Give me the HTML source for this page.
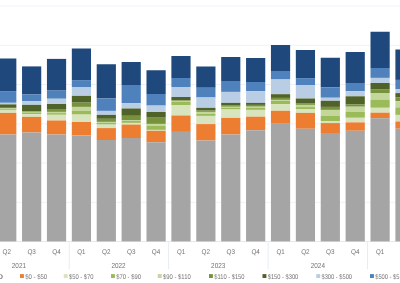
<!DOCTYPE html>
<html><head><meta charset="utf-8"><style>
html,body{margin:0;padding:0;background:#fff;width:400px;height:283px;overflow:hidden}
svg{display:block}
text{-webkit-font-smoothing:antialiased;text-rendering:geometricPrecision}
g.t{will-change:transform}
text{font-family:"Liberation Sans",sans-serif;font-size:6.8px;fill:#757575}
</style></head><body>
<svg width="400" height="283" viewBox="0 0 400 283">
<rect width="400" height="283" fill="#fff"/>
<rect x="0" y="5.55" width="400" height="1" fill="#eef2f8"/><rect x="0" y="44.80" width="400" height="1" fill="#eef2f8"/><rect x="0" y="84.05" width="400" height="1" fill="#eef2f8"/><rect x="0" y="123.30" width="400" height="1" fill="#eef2f8"/><rect x="0" y="162.55" width="400" height="1" fill="#eef2f8"/><rect x="0" y="201.80" width="400" height="1" fill="#eef2f8"/>
<rect x="0" y="241.05" width="400" height="1" fill="#e2e9f3"/>
<rect x="-2.85" y="58.50" width="19.2" height="33.10" fill="#1f497d"/><rect x="-2.85" y="91.60" width="19.2" height="11.20" fill="#4f81bd"/><rect x="-2.85" y="102.80" width="19.2" height="1.60" fill="#b9cde5"/><rect x="-2.85" y="104.40" width="19.2" height="3.40" fill="#4f6228"/><rect x="-2.85" y="107.80" width="19.2" height="0.50" fill="#76923c"/><rect x="-2.85" y="108.30" width="19.2" height="0.50" fill="#c3d69b"/><rect x="-2.85" y="108.80" width="19.2" height="1.10" fill="#9bbb59"/><rect x="-2.85" y="109.90" width="19.2" height="3.00" fill="#d7e4bd"/><rect x="-2.85" y="112.90" width="19.2" height="21.60" fill="#ed7d31"/><rect x="-2.85" y="134.50" width="19.2" height="106.90" fill="#a5a5a5"/><rect x="22.04" y="66.40" width="19.2" height="28.10" fill="#1f497d"/><rect x="22.04" y="94.50" width="19.2" height="6.80" fill="#4f81bd"/><rect x="22.04" y="101.30" width="19.2" height="3.60" fill="#b9cde5"/><rect x="22.04" y="104.90" width="19.2" height="6.10" fill="#4f6228"/><rect x="22.04" y="111.00" width="19.2" height="0.80" fill="#76923c"/><rect x="22.04" y="111.80" width="19.2" height="0.60" fill="#c3d69b"/><rect x="22.04" y="112.40" width="19.2" height="1.80" fill="#9bbb59"/><rect x="22.04" y="114.20" width="19.2" height="2.70" fill="#d7e4bd"/><rect x="22.04" y="116.90" width="19.2" height="15.60" fill="#ed7d31"/><rect x="22.04" y="132.50" width="19.2" height="108.90" fill="#a5a5a5"/><rect x="46.93" y="58.90" width="19.2" height="31.70" fill="#1f497d"/><rect x="46.93" y="90.60" width="19.2" height="8.15" fill="#4f81bd"/><rect x="46.93" y="98.75" width="19.2" height="5.25" fill="#b9cde5"/><rect x="46.93" y="104.00" width="19.2" height="5.70" fill="#4f6228"/><rect x="46.93" y="109.70" width="19.2" height="2.20" fill="#76923c"/><rect x="46.93" y="111.90" width="19.2" height="1.20" fill="#c3d69b"/><rect x="46.93" y="113.10" width="19.2" height="1.70" fill="#9bbb59"/><rect x="46.93" y="114.80" width="19.2" height="5.70" fill="#d7e4bd"/><rect x="46.93" y="120.50" width="19.2" height="14.00" fill="#ed7d31"/><rect x="46.93" y="134.50" width="19.2" height="106.90" fill="#a5a5a5"/><rect x="71.82" y="48.50" width="19.2" height="31.60" fill="#1f497d"/><rect x="71.82" y="80.10" width="19.2" height="6.90" fill="#4f81bd"/><rect x="71.82" y="87.00" width="19.2" height="8.90" fill="#b9cde5"/><rect x="71.82" y="95.90" width="19.2" height="6.70" fill="#4f6228"/><rect x="71.82" y="102.60" width="19.2" height="4.30" fill="#76923c"/><rect x="71.82" y="106.90" width="19.2" height="3.80" fill="#c3d69b"/><rect x="71.82" y="110.70" width="19.2" height="3.90" fill="#9bbb59"/><rect x="71.82" y="114.60" width="19.2" height="7.40" fill="#d7e4bd"/><rect x="71.82" y="122.00" width="19.2" height="13.50" fill="#ed7d31"/><rect x="71.82" y="135.50" width="19.2" height="105.90" fill="#a5a5a5"/><rect x="96.71" y="64.25" width="19.2" height="34.25" fill="#1f497d"/><rect x="96.71" y="98.50" width="19.2" height="12.40" fill="#4f81bd"/><rect x="96.71" y="110.90" width="19.2" height="4.00" fill="#b9cde5"/><rect x="96.71" y="114.90" width="19.2" height="3.90" fill="#4f6228"/><rect x="96.71" y="118.80" width="19.2" height="3.10" fill="#76923c"/><rect x="96.71" y="121.90" width="19.2" height="0.90" fill="#c3d69b"/><rect x="96.71" y="122.80" width="19.2" height="1.80" fill="#9bbb59"/><rect x="96.71" y="124.60" width="19.2" height="3.50" fill="#d7e4bd"/><rect x="96.71" y="128.10" width="19.2" height="11.90" fill="#ed7d31"/><rect x="96.71" y="140.00" width="19.2" height="101.40" fill="#a5a5a5"/><rect x="121.60" y="62.00" width="19.2" height="23.00" fill="#1f497d"/><rect x="121.60" y="85.00" width="19.2" height="18.10" fill="#4f81bd"/><rect x="121.60" y="103.10" width="19.2" height="5.40" fill="#b9cde5"/><rect x="121.60" y="108.50" width="19.2" height="7.30" fill="#4f6228"/><rect x="121.60" y="115.80" width="19.2" height="4.40" fill="#76923c"/><rect x="121.60" y="120.20" width="19.2" height="0.60" fill="#c3d69b"/><rect x="121.60" y="120.80" width="19.2" height="2.10" fill="#9bbb59"/><rect x="121.60" y="122.90" width="19.2" height="1.70" fill="#d7e4bd"/><rect x="121.60" y="124.60" width="19.2" height="13.40" fill="#ed7d31"/><rect x="121.60" y="138.00" width="19.2" height="103.40" fill="#a5a5a5"/><rect x="146.49" y="70.25" width="19.2" height="23.75" fill="#1f497d"/><rect x="146.49" y="94.00" width="19.2" height="11.60" fill="#4f81bd"/><rect x="146.49" y="105.60" width="19.2" height="6.40" fill="#b9cde5"/><rect x="146.49" y="112.00" width="19.2" height="5.70" fill="#4f6228"/><rect x="146.49" y="117.70" width="19.2" height="6.20" fill="#76923c"/><rect x="146.49" y="123.90" width="19.2" height="1.80" fill="#c3d69b"/><rect x="146.49" y="125.70" width="19.2" height="4.20" fill="#9bbb59"/><rect x="146.49" y="129.90" width="19.2" height="0.90" fill="#d7e4bd"/><rect x="146.49" y="130.80" width="19.2" height="11.45" fill="#ed7d31"/><rect x="146.49" y="142.25" width="19.2" height="99.15" fill="#a5a5a5"/><rect x="171.38" y="56.00" width="19.2" height="22.00" fill="#1f497d"/><rect x="171.38" y="78.00" width="19.2" height="9.00" fill="#4f81bd"/><rect x="171.38" y="87.00" width="19.2" height="10.00" fill="#b9cde5"/><rect x="171.38" y="97.00" width="19.2" height="3.50" fill="#4f6228"/><rect x="171.38" y="100.50" width="19.2" height="0.40" fill="#76923c"/><rect x="171.38" y="100.90" width="19.2" height="0.70" fill="#c3d69b"/><rect x="171.38" y="101.60" width="19.2" height="3.80" fill="#9bbb59"/><rect x="171.38" y="105.40" width="19.2" height="10.10" fill="#d7e4bd"/><rect x="171.38" y="115.50" width="19.2" height="16.40" fill="#ed7d31"/><rect x="171.38" y="131.90" width="19.2" height="109.50" fill="#a5a5a5"/><rect x="196.27" y="66.50" width="19.2" height="21.25" fill="#1f497d"/><rect x="196.27" y="87.75" width="19.2" height="9.75" fill="#4f81bd"/><rect x="196.27" y="97.50" width="19.2" height="10.35" fill="#b9cde5"/><rect x="196.27" y="107.85" width="19.2" height="2.75" fill="#4f6228"/><rect x="196.27" y="110.60" width="19.2" height="1.30" fill="#76923c"/><rect x="196.27" y="111.90" width="19.2" height="2.10" fill="#c3d69b"/><rect x="196.27" y="114.00" width="19.2" height="1.90" fill="#9bbb59"/><rect x="196.27" y="115.90" width="19.2" height="8.20" fill="#d7e4bd"/><rect x="196.27" y="124.10" width="19.2" height="16.40" fill="#ed7d31"/><rect x="196.27" y="140.50" width="19.2" height="100.90" fill="#a5a5a5"/><rect x="221.16" y="57.00" width="19.2" height="24.00" fill="#1f497d"/><rect x="221.16" y="81.00" width="19.2" height="10.90" fill="#4f81bd"/><rect x="221.16" y="91.90" width="19.2" height="11.00" fill="#b9cde5"/><rect x="221.16" y="102.90" width="19.2" height="2.20" fill="#4f6228"/><rect x="221.16" y="105.10" width="19.2" height="1.70" fill="#76923c"/><rect x="221.16" y="106.80" width="19.2" height="1.10" fill="#c3d69b"/><rect x="221.16" y="107.90" width="19.2" height="1.60" fill="#9bbb59"/><rect x="221.16" y="109.50" width="19.2" height="8.40" fill="#d7e4bd"/><rect x="221.16" y="117.90" width="19.2" height="16.60" fill="#ed7d31"/><rect x="221.16" y="134.50" width="19.2" height="106.90" fill="#a5a5a5"/><rect x="246.05" y="58.00" width="19.2" height="24.00" fill="#1f497d"/><rect x="246.05" y="82.00" width="19.2" height="9.25" fill="#4f81bd"/><rect x="246.05" y="91.25" width="19.2" height="11.65" fill="#b9cde5"/><rect x="246.05" y="102.90" width="19.2" height="2.00" fill="#4f6228"/><rect x="246.05" y="104.90" width="19.2" height="1.80" fill="#76923c"/><rect x="246.05" y="106.70" width="19.2" height="1.00" fill="#c3d69b"/><rect x="246.05" y="107.70" width="19.2" height="2.20" fill="#9bbb59"/><rect x="246.05" y="109.90" width="19.2" height="6.80" fill="#d7e4bd"/><rect x="246.05" y="116.70" width="19.2" height="13.55" fill="#ed7d31"/><rect x="246.05" y="130.25" width="19.2" height="111.15" fill="#a5a5a5"/><rect x="270.94" y="45.00" width="19.2" height="26.00" fill="#1f497d"/><rect x="270.94" y="71.00" width="19.2" height="8.50" fill="#4f81bd"/><rect x="270.94" y="79.50" width="19.2" height="14.70" fill="#b9cde5"/><rect x="270.94" y="94.20" width="19.2" height="3.70" fill="#4f6228"/><rect x="270.94" y="97.90" width="19.2" height="2.00" fill="#76923c"/><rect x="270.94" y="99.90" width="19.2" height="0.90" fill="#c3d69b"/><rect x="270.94" y="100.80" width="19.2" height="3.50" fill="#9bbb59"/><rect x="270.94" y="104.30" width="19.2" height="6.50" fill="#d7e4bd"/><rect x="270.94" y="110.80" width="19.2" height="12.95" fill="#ed7d31"/><rect x="270.94" y="123.75" width="19.2" height="117.65" fill="#a5a5a5"/><rect x="295.83" y="50.00" width="19.2" height="28.10" fill="#1f497d"/><rect x="295.83" y="78.10" width="19.2" height="6.90" fill="#4f81bd"/><rect x="295.83" y="85.00" width="19.2" height="13.50" fill="#b9cde5"/><rect x="295.83" y="98.50" width="19.2" height="5.10" fill="#4f6228"/><rect x="295.83" y="103.60" width="19.2" height="1.30" fill="#76923c"/><rect x="295.83" y="104.90" width="19.2" height="2.20" fill="#c3d69b"/><rect x="295.83" y="107.10" width="19.2" height="2.00" fill="#9bbb59"/><rect x="295.83" y="109.10" width="19.2" height="3.80" fill="#d7e4bd"/><rect x="295.83" y="112.90" width="19.2" height="15.85" fill="#ed7d31"/><rect x="295.83" y="128.75" width="19.2" height="112.65" fill="#a5a5a5"/><rect x="320.72" y="57.75" width="19.2" height="29.50" fill="#1f497d"/><rect x="320.72" y="87.25" width="19.2" height="10.50" fill="#4f81bd"/><rect x="320.72" y="97.75" width="19.2" height="3.05" fill="#b9cde5"/><rect x="320.72" y="100.80" width="19.2" height="6.10" fill="#4f6228"/><rect x="320.72" y="106.90" width="19.2" height="3.00" fill="#76923c"/><rect x="320.72" y="109.90" width="19.2" height="5.80" fill="#c3d69b"/><rect x="320.72" y="115.70" width="19.2" height="5.30" fill="#9bbb59"/><rect x="320.72" y="121.00" width="19.2" height="2.10" fill="#d7e4bd"/><rect x="320.72" y="123.10" width="19.2" height="9.90" fill="#ed7d31"/><rect x="320.72" y="133.00" width="19.2" height="108.40" fill="#a5a5a5"/><rect x="345.61" y="52.00" width="19.2" height="31.00" fill="#1f497d"/><rect x="345.61" y="83.00" width="19.2" height="8.25" fill="#4f81bd"/><rect x="345.61" y="91.25" width="19.2" height="5.05" fill="#b9cde5"/><rect x="345.61" y="96.30" width="19.2" height="8.20" fill="#4f6228"/><rect x="345.61" y="104.50" width="19.2" height="2.20" fill="#76923c"/><rect x="345.61" y="106.70" width="19.2" height="5.05" fill="#c3d69b"/><rect x="345.61" y="111.75" width="19.2" height="6.05" fill="#9bbb59"/><rect x="345.61" y="117.80" width="19.2" height="4.60" fill="#d7e4bd"/><rect x="345.61" y="122.40" width="19.2" height="8.35" fill="#ed7d31"/><rect x="345.61" y="130.75" width="19.2" height="110.65" fill="#a5a5a5"/><rect x="370.50" y="31.75" width="19.2" height="36.25" fill="#1f497d"/><rect x="370.50" y="68.00" width="19.2" height="9.90" fill="#4f81bd"/><rect x="370.50" y="77.90" width="19.2" height="5.10" fill="#b9cde5"/><rect x="370.50" y="83.00" width="19.2" height="6.60" fill="#4f6228"/><rect x="370.50" y="89.60" width="19.2" height="3.40" fill="#76923c"/><rect x="370.50" y="93.00" width="19.2" height="6.60" fill="#c3d69b"/><rect x="370.50" y="99.60" width="19.2" height="8.20" fill="#9bbb59"/><rect x="370.50" y="107.80" width="19.2" height="4.90" fill="#d7e4bd"/><rect x="370.50" y="112.70" width="19.2" height="5.50" fill="#ed7d31"/><rect x="370.50" y="118.20" width="19.2" height="123.20" fill="#a5a5a5"/><rect x="395.39" y="49.50" width="19.2" height="30.40" fill="#1f497d"/><rect x="395.39" y="79.90" width="19.2" height="9.30" fill="#4f81bd"/><rect x="395.39" y="89.20" width="19.2" height="3.90" fill="#b9cde5"/><rect x="395.39" y="93.10" width="19.2" height="4.10" fill="#4f6228"/><rect x="395.39" y="97.20" width="19.2" height="4.00" fill="#76923c"/><rect x="395.39" y="101.20" width="19.2" height="6.20" fill="#c3d69b"/><rect x="395.39" y="107.40" width="19.2" height="7.50" fill="#9bbb59"/><rect x="395.39" y="114.90" width="19.2" height="6.60" fill="#d7e4bd"/><rect x="395.39" y="121.50" width="19.2" height="7.20" fill="#ed7d31"/><rect x="395.39" y="128.70" width="19.2" height="112.70" fill="#a5a5a5"/>
<rect x="68.70" y="241.5" width="1" height="27.7" fill="#e6edf7"/><rect x="168.15" y="241.5" width="1" height="27.7" fill="#e6edf7"/><rect x="267.60" y="241.5" width="1" height="27.7" fill="#e6edf7"/><rect x="367.05" y="241.5" width="1" height="27.7" fill="#e6edf7"/>
<g class="t"><text x="6.75" y="253.9" text-anchor="middle" textLength="8.5" lengthAdjust="spacingAndGlyphs">Q2</text><text x="31.64" y="253.9" text-anchor="middle" textLength="8.5" lengthAdjust="spacingAndGlyphs">Q3</text><text x="56.53" y="253.9" text-anchor="middle" textLength="8.5" lengthAdjust="spacingAndGlyphs">Q4</text><text x="81.42" y="253.9" text-anchor="middle" textLength="8.2" lengthAdjust="spacingAndGlyphs">Q1</text><text x="106.31" y="253.9" text-anchor="middle" textLength="8.5" lengthAdjust="spacingAndGlyphs">Q2</text><text x="131.20" y="253.9" text-anchor="middle" textLength="8.5" lengthAdjust="spacingAndGlyphs">Q3</text><text x="156.09" y="253.9" text-anchor="middle" textLength="8.5" lengthAdjust="spacingAndGlyphs">Q4</text><text x="180.98" y="253.9" text-anchor="middle" textLength="8.2" lengthAdjust="spacingAndGlyphs">Q1</text><text x="205.87" y="253.9" text-anchor="middle" textLength="8.5" lengthAdjust="spacingAndGlyphs">Q2</text><text x="230.76" y="253.9" text-anchor="middle" textLength="8.5" lengthAdjust="spacingAndGlyphs">Q3</text><text x="255.65" y="253.9" text-anchor="middle" textLength="8.5" lengthAdjust="spacingAndGlyphs">Q4</text><text x="280.54" y="253.9" text-anchor="middle" textLength="8.2" lengthAdjust="spacingAndGlyphs">Q1</text><text x="305.43" y="253.9" text-anchor="middle" textLength="8.5" lengthAdjust="spacingAndGlyphs">Q2</text><text x="330.32" y="253.9" text-anchor="middle" textLength="8.5" lengthAdjust="spacingAndGlyphs">Q3</text><text x="355.21" y="253.9" text-anchor="middle" textLength="8.5" lengthAdjust="spacingAndGlyphs">Q4</text><text x="380.10" y="253.9" text-anchor="middle" textLength="8.2" lengthAdjust="spacingAndGlyphs">Q1</text><text x="404.99" y="253.9" text-anchor="middle" textLength="8.5" lengthAdjust="spacingAndGlyphs">Q2</text><text x="18.90" y="267.5" text-anchor="middle" style="font-size:7.3px" textLength="14.2" lengthAdjust="spacingAndGlyphs">2021</text><text x="118.55" y="267.5" text-anchor="middle" style="font-size:7.3px" textLength="14.2" lengthAdjust="spacingAndGlyphs">2022</text><text x="218.20" y="267.5" text-anchor="middle" style="font-size:7.3px" textLength="14.2" lengthAdjust="spacingAndGlyphs">2023</text><text x="317.85" y="267.5" text-anchor="middle" style="font-size:7.3px" textLength="14.2" lengthAdjust="spacingAndGlyphs">2024</text><text x="417.50" y="267.5" text-anchor="middle" style="font-size:7.3px" textLength="14.2" lengthAdjust="spacingAndGlyphs">2025</text></g>
<g class="t"><text x="-19.5" y="278.6" textLength="22.5" lengthAdjust="spacingAndGlyphs">&lt; $0</text><rect x="20.00" y="274.1" width="3.9" height="3.9" fill="#ed7d31"/><text x="25.20" y="278.6" textLength="22" lengthAdjust="spacingAndGlyphs">$0 - $50</text><rect x="63.75" y="274.1" width="3.9" height="3.9" fill="#d7e4bd"/><text x="68.95" y="278.6" textLength="24.6" lengthAdjust="spacingAndGlyphs">$50 - $70</text><rect x="111.00" y="274.1" width="3.9" height="3.9" fill="#9bbb59"/><text x="116.20" y="278.6" textLength="24.75" lengthAdjust="spacingAndGlyphs">$70 - $90</text><rect x="157.75" y="274.1" width="3.9" height="3.9" fill="#c3d69b"/><text x="162.95" y="278.6" textLength="27.75" lengthAdjust="spacingAndGlyphs">$90 - $110</text><rect x="209.00" y="274.1" width="3.9" height="3.9" fill="#76923c"/><text x="214.20" y="278.6" textLength="30.35" lengthAdjust="spacingAndGlyphs">$110 - $150</text><rect x="262.50" y="274.1" width="3.9" height="3.9" fill="#4f6228"/><text x="267.70" y="278.6" textLength="30.6" lengthAdjust="spacingAndGlyphs">$150 - $300</text><rect x="316.25" y="274.1" width="3.9" height="3.9" fill="#b9cde5"/><text x="321.45" y="278.6" textLength="30.6" lengthAdjust="spacingAndGlyphs">$300 - $500</text><rect x="370.00" y="274.1" width="3.9" height="3.9" fill="#4f81bd"/><text x="375.20" y="278.6" textLength="35.4" lengthAdjust="spacingAndGlyphs">$500 - $5,000</text></g>
</svg>
</body></html>
